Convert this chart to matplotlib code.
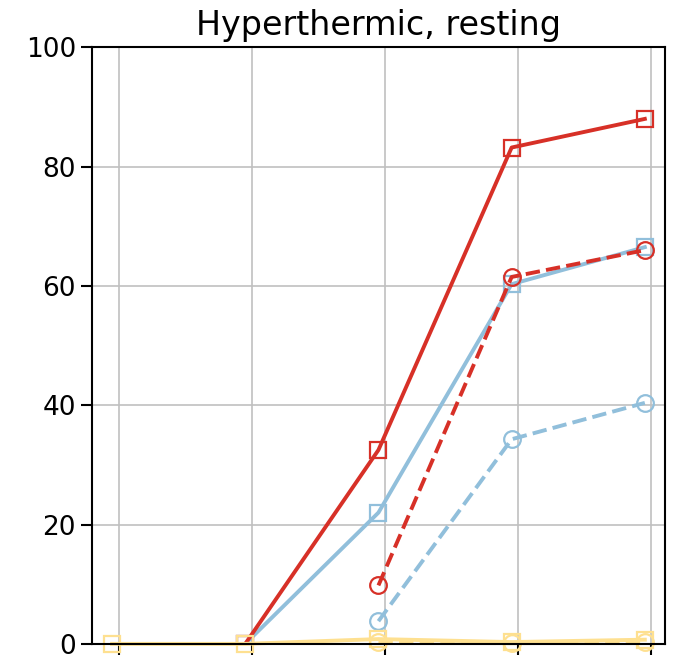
import numpy as np
import matplotlib.pyplot as plt

# x positions (categories), markers sit slightly left of the ticks
x_ticks = [0, 1, 2, 3, 4]
x_pts = np.array(x_ticks) - 0.05

# series values (% of cases), NaN where no point is drawn
red_solid = [np.nan, 0.0, 32.5, 83.2, 88.0]
red_dashed = [np.nan, np.nan, 9.8, 61.5, 66.0]
blue_solid = [np.nan, 0.0, 22.0, 60.3, 66.5]
blue_dashed = [np.nan, np.nan, 3.8, 34.3, 40.4]
yellow_solid = [0.0, 0.0, 0.8, 0.3, 0.7]
yellow_dashed = [np.nan, np.nan, 0.3, 0.1, 0.3]

red = "#d73027"
blue = "#91bfdb"
yellow = "#fee090"

fig = plt.figure(figsize=(6.77, 6.57), dpi=100)
ax = fig.add_axes([0.136, 0.02, 0.846, 0.908])

kw = dict(lw=2.8, ms=12, mfc="none", mew=1.6)
ax.plot(x_pts, blue_solid, "-s", color=blue, **kw)
ax.plot(x_pts, blue_dashed, "--o", color=blue, **kw)
ax.plot(x_pts, red_solid, "-s", color=red, **kw)
ax.plot(x_pts, red_dashed, "--o", color=red, **kw)
ax.plot(x_pts, yellow_solid, "-s", color=yellow, clip_on=False, **kw)
ax.plot(x_pts, yellow_dashed, "--o", color=yellow, clip_on=False, **kw)

ax.set_xlim(-0.2, 4.1)
ax.set_ylim(0, 100)
ax.set_xticks(x_ticks)
ax.set_xticklabels([])
ax.set_yticks([0, 20, 40, 60, 80, 100])
ax.tick_params(labelsize=19, length=8, width=1.5)
ax.grid(True, color="#c0c0c0", lw=1.2)
for s in ax.spines.values():
    s.set_linewidth(1.5)
ax.set_title("Hyperthermic, resting", fontsize=24, pad=9)

fig.savefig("out.png", dpi=100)
